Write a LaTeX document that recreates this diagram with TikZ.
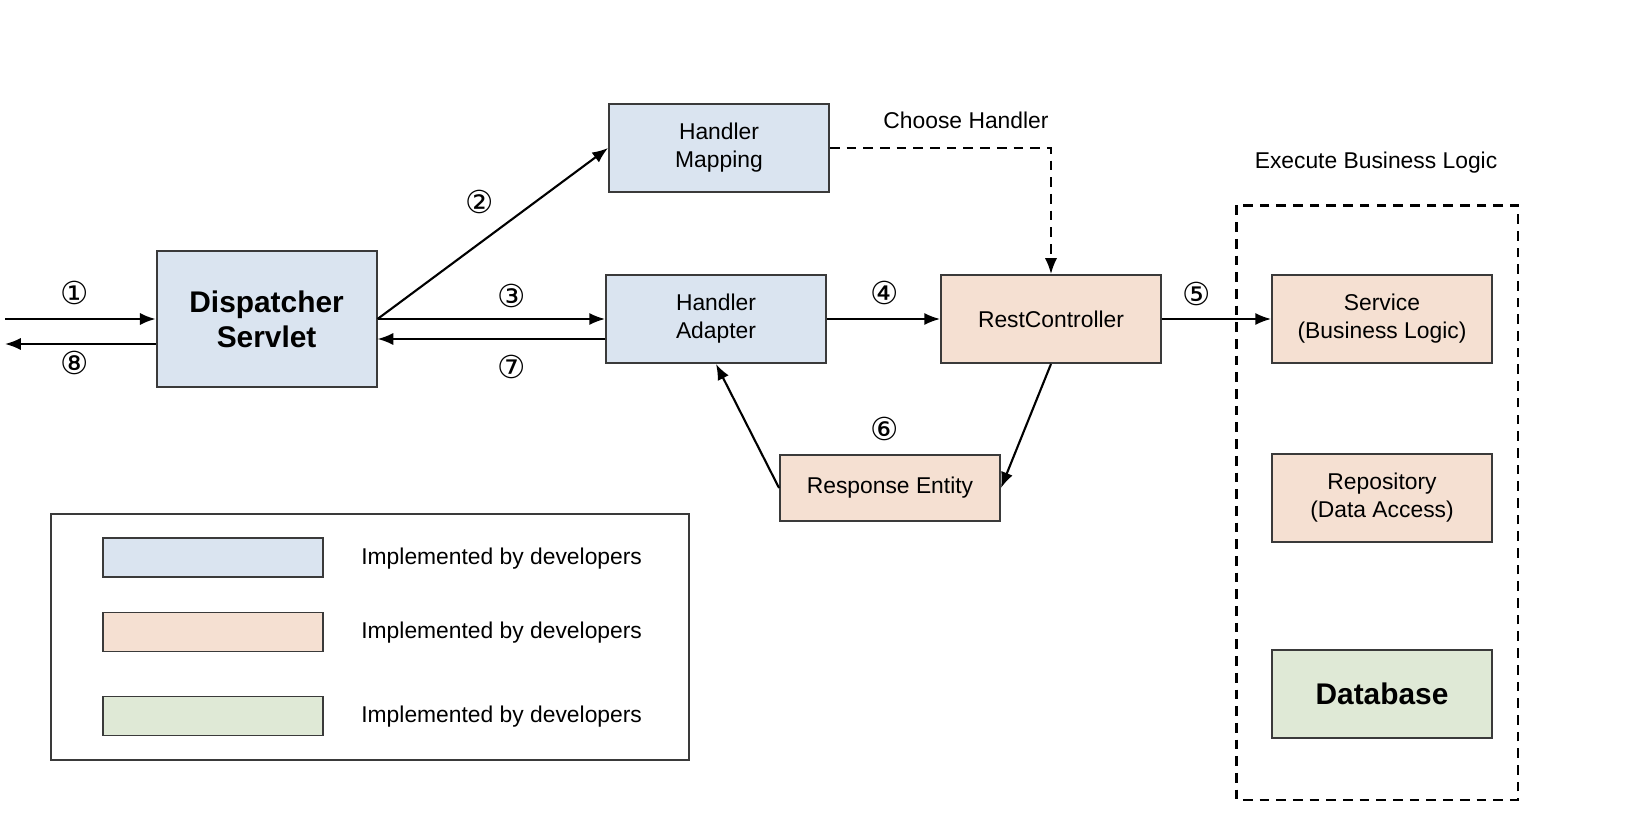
\documentclass[tikz,border=0pt]{standalone}
\usepackage{fontspec}
\setmainfont{Liberation Sans}
\newfontfamily\circfont{DejaVu Sans}
\usetikzlibrary{arrows.meta}

\definecolor{boxline}{HTML}{3A3A3A}
\definecolor{springblue}{HTML}{DAE4F0}
\definecolor{springpeach}{HTML}{F5E0D2}
\definecolor{springgreen}{HTML}{DFE9D6}

\begin{document}
\begin{tikzpicture}
[
	x=0.02cm, y=-0.02cm,
	box/.style={draw=boxline,line width=1.1pt,minimum width=4.4cm,minimum height=1.76cm,
		inner sep=0pt,align=center,font=\fontsize{13}{16}\selectfont},
	bluebox/.style={box,fill=springblue},
	peachbox/.style={box,fill=springpeach},
	greenbox/.style={box,fill=springgreen},
	bigtext/.style={font=\bfseries\fontsize{17}{20}\selectfont},
	swatch/.style={draw=boxline,line width=1.1pt,minimum width=4.4cm,minimum height=0.78cm,inner sep=0pt},
	txt/.style={font=\fontsize{13}{16}\selectfont,inner sep=0pt},
	num/.style={font=\circfont\fontsize{18}{18}\selectfont,inner sep=0pt},
	arr/.style={-{Latex[length=9pt,width=7pt]},line width=1.2pt},
	dashline/.style={line width=1.2pt,dash pattern=on 5.5pt off 4pt}
]
	\useasboundingbox (0,0) rectangle (1636,834);

	% main boxes
	\node[bluebox,bigtext,minimum height=2.71cm] (ds) at (266.6,319) {Dispatcher\\Servlet};
	\node[bluebox] (hm) at (719,148) {Handler\\Mapping};
	\node[bluebox] (ha) at (716,319) {Handler\\Adapter};
	\node[peachbox] (rc) at (1051,319) {RestController};
	\node[peachbox,minimum height=1.31cm] (re) at (890,488) {Response Entity};

	% business logic
	\draw[dashline] (1236.5,205.5) rectangle (1518,800);
	\node[txt] (exec) at (1376,163) {Execute Business Logic};
	\node[peachbox] (svc) at (1382,319) {Service\\(Business Logic)};
	\node[peachbox] (repo) at (1382,498) {Repository\\(Data Access)};
	\node[greenbox,bigtext] (db) at (1382,694) {Database};

	% request and response
	\coordinate (req) at (5,319);
	\coordinate (resp) at (5,344);
	\draw[arr] (req) -- (ds);
	\draw[arr] (ds.west |- resp) -- (resp);
	\node[num] (n1) at (75,293) {①};
	\node[num] (n8) at (75,363) {⑧};

	\draw[arr] (ds.east) -- (hm.west);
	\node[num] (n2) at (480,202) {②};
	\draw[arr] (ds.east) -- (ha.west);
	\node[num] (n3) at (512,296) {③};
	\draw[arr] ([yshift=-0.4cm]ha.west) -- ([yshift=-0.4cm]ds.east);
	\node[num] (n7) at (512,367) {⑦};

	\draw[dashline,-{Latex[length=9pt,width=7pt]}] (hm.east) -| (rc.north);
	\node[txt] (choose) at (966,120) {Choose Handler};

	\draw[arr] (ha.east) -- (rc.west);
	\node[num] (n4) at (885,293) {④};
	\draw[arr] (rc.east) -- (svc.west);
	\node[num] (n5) at (1197,294) {⑤};
	\draw[arr] (rc.south) -- (re.east);
	\draw[arr] (re.west) -- (ha.south);
	\node[num] (n6) at (885,429) {⑥};

	% legend
	\draw[draw=boxline,line width=1.1pt] (51,514) rectangle (688.6,759.6);
	\node[swatch,fill=springblue] (lg1) at (213,557.5) {};
	\node[swatch,fill=springpeach] (lg2) at (213,632) {};
	\node[swatch,fill=springgreen] (lg3) at (213,716) {};
	\node[txt,anchor=west] (lt1) at (361,559) {Implemented by developers};
	\node[txt,anchor=west] (lt2) at (361,633) {Implemented by developers};
	\node[txt,anchor=west] (lt3) at (361,717) {Implemented by developers};

\end{tikzpicture}
\end{document}
